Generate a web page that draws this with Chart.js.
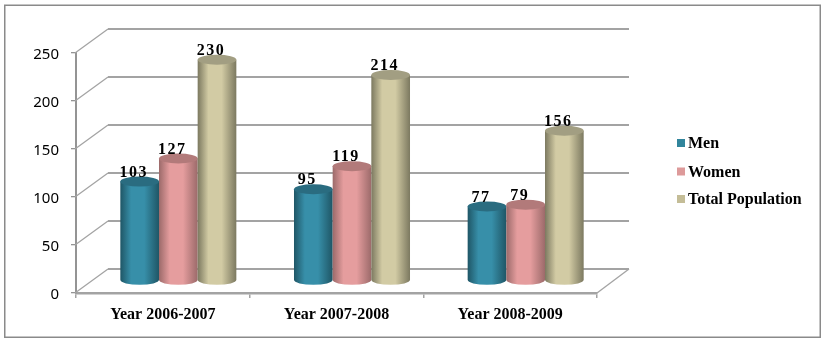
<!DOCTYPE html>
<html>
<head>
<meta charset="utf-8">
<style>
  html, body { margin: 0; padding: 0; background: #fff; }
  #wrap { width: 825px; height: 342px; }
</style>
<script src="https://cdn.jsdelivr.net/npm/chart.js@4"></script>
</head>
<body>
<div id="wrap"><canvas id="chart" width="825" height="342"></canvas></div>
<script>
// data
const categories = ['Year 2006-2007', 'Year 2007-2008', 'Year 2008-2009'];
const men = [103, 95, 77];
const women = [127, 119, 79];
const totalPopulation = [230, 214, 156];

const GRID = '#a3a3a3';
const SERIF = '"Liberation Serif", serif';

// colours of each cylinder: flat (legend), edge, middle, lid
const looks = [
    { flat: '#31859c', edge: '#1f5666', mid: '#378fa9', lid: '#2a6c80' },
    { flat: '#dd9a9a', edge: '#9c6a6a', mid: '#e59d9e', lid: '#b27a7a' },
    { flat: '#c4bd97', edge: '#7c7960', mid: '#d2cba4', lid: '#a29e82' }
];

// the fake 3D box behind the plot
const DEPTH_X = 33;
const DEPTH_Y = 24;

const wallPlugin = {
    id: 'wall',
    beforeDraw(chart) {
        const c = chart.ctx;
        c.save();
        c.strokeStyle = '#8a8a8a';
        c.lineWidth = 1.5;
        c.strokeRect(4.75, 5.25, 815.5, 332);
        c.restore();
    },
    beforeDatasetsDraw(chart) {
        const c = chart.ctx;
        const y = chart.scales.y;
        const left = chart.chartArea.left - 1;
        const right = chart.chartArea.right;
        c.save();
        c.strokeStyle = GRID;
        y.ticks.forEach(t => {
            const py = y.getPixelForValue(t.value);
            c.lineWidth = 1.3;
            c.beginPath();
            c.moveTo(left, py);
            c.lineTo(left + DEPTH_X, py - DEPTH_Y);
            c.stroke();
            c.lineWidth = 2;
            c.beginPath();
            c.moveTo(left + DEPTH_X, py - DEPTH_Y);
            c.lineTo(right + DEPTH_X - 1, py - DEPTH_Y);
            c.stroke();
        });
        const floor = y.getPixelForValue(0);
        c.lineWidth = 1.3;
        c.beginPath();
        c.moveTo(right, floor);
        c.lineTo(right + DEPTH_X - 1, floor - DEPTH_Y);
        c.stroke();
        c.restore();
    }
};

const BAR_DY = -12.5;
const BAR_DX = 15.5;
const RY = 5;

function drawCylinder(c, bar, look) {
    const w = bar.width;
    const x0 = bar.x + BAR_DX - w / 2;
    const cx = bar.x + BAR_DX;
    const top = bar.y + BAR_DY;
    const bottom = bar.base + BAR_DY;

    const g = c.createLinearGradient(x0, 0, x0 + w, 0);
    g.addColorStop(0, look.edge);
    g.addColorStop(0.28, look.mid);
    g.addColorStop(0.62, look.mid);
    g.addColorStop(1, look.edge);

    c.fillStyle = g;
    c.beginPath();
    c.moveTo(x0, top);
    c.lineTo(x0 + w, top);
    c.lineTo(x0 + w, bottom);
    c.ellipse(cx, bottom, w / 2, RY, 0, 0, Math.PI);
    c.closePath();
    c.fill();

    c.fillStyle = look.lid;
    c.beginPath();
    c.ellipse(cx, top, w / 2, RY, 0, 0, Math.PI * 2);
    c.fill();
}

const cylinderPlugin = {
    id: 'cylinders',
    // the flat bars are replaced, cylinders overlap left to right
    beforeDatasetDraw() {
        return false;
    },
    afterDatasetsDraw(chart) {
        const c = chart.ctx;
        c.save();
        chart.data.datasets.forEach((ds, i) => {
            chart.getDatasetMeta(i).data.forEach(bar => drawCylinder(c, bar, looks[i]));
        });
        c.font = 'bold 16px ' + SERIF;
        c.letterSpacing = '1.5px';
        c.fillStyle = '#000';
        c.textAlign = 'center';
        c.textBaseline = 'middle';
        chart.data.datasets.forEach((ds, i) => {
            chart.getDatasetMeta(i).data.forEach((bar, j) => {
                c.fillText(ds.data[j], bar.x + BAR_DX - 6, bar.y + BAR_DY - 9);
            });
        });
        c.restore();
    }
};

const legendPlugin = {
    id: 'sideLegend',
    afterDraw(chart) {
        const c = chart.ctx;
        const rows = [143, 171.5, 199];
        c.save();
        c.font = 'bold 16px ' + SERIF;
        c.textAlign = 'left';
        c.textBaseline = 'middle';
        chart.data.datasets.forEach((ds, i) => {
            c.fillStyle = looks[i].flat;
            c.fillRect(677, rows[i] - 4, 8, 8);
            c.fillStyle = '#000';
            c.fillText(ds.label, 688, rows[i] + 1);
        });
        c.restore();
    }
};

new Chart(document.getElementById('chart'), {
    type: 'bar',
    data: {
        labels: categories,
        datasets: [
            { label: 'Men', data: men, backgroundColor: looks[0].flat },
            { label: 'Women', data: women, backgroundColor: looks[1].flat },
            { label: 'Total Population', data: totalPopulation, backgroundColor: looks[2].flat }
        ]
    },
    options: {
        responsive: false,
        animation: false,
        layout: { padding: { top: 53, right: 228, left: 0, bottom: 0 } },
        datasets: { bar: { categoryPercentage: 0.668, barPercentage: 1 } },
        plugins: { legend: { display: false }, tooltip: { enabled: false } },
        scales: {
            x: {
                afterFit(s) { s.height = 49; },
                border: { color: GRID, width: 2.5 },
                grid: { drawOnChartArea: false, color: GRID, tickLength: 5, lineWidth: 1.5 },
                ticks: { color: '#000', padding: 7, maxRotation: 0, font: { family: SERIF, size: 16, weight: 'bold' } }
            },
            y: {
                min: 0,
                max: 250,
                afterFit(s) { s.width = 76; },
                border: { color: '#949494', width: 2 },
                grid: { drawOnChartArea: false, color: '#949494', tickLength: 5, lineWidth: 1.3 },
                ticks: { stepSize: 50, color: '#000', padding: 12, labelOffset: 2, font: { family: '"Noto Sans"', size: 15 } }
            }
        }
    },
    plugins: [wallPlugin, cylinderPlugin, legendPlugin]
});
</script>
</body>
</html>
